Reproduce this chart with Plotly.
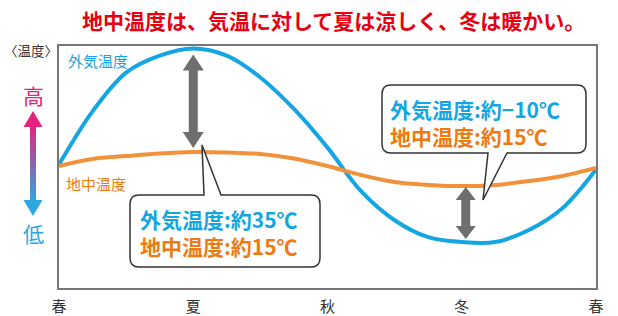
import plotly.graph_objects as go

# ---- data ----
season_pos = [0, 1, 2, 3, 4]
season_labels = ["春", "夏", "秋", "冬", "春"]
x_pos = [0, 0.25, 0.5, 0.75, 1, 1.25, 1.5, 1.75, 2, 2.25, 2.5, 2.75, 3, 3.25, 3.5, 3.75, 4]
air_temp = [51, 73, 89, 96, 99, 96, 87, 74, 58, 40, 28, 21, 19, 19, 24, 33, 49]
ground_temp = [50.4, 53.3, 54.5, 55.6, 56.2, 56.0, 55.4, 53.5, 50.4, 46.7, 43.8, 42.6, 42.1, 42.6, 44.2, 46.3, 49.6]
summer_idx = 4
winter_idx = 12

title_text = "地中温度は、気温に対して夏は涼しく、冬は暖かい。"
box1_lines = ["外気温度:約35℃", "地中温度:約15℃"]
box2_lines = ["外気温度:約−10℃", "地中温度:約15℃"]

# ---- style ----
W, H = 618, 316
L, R, T, B = 59, 596, 46, 288
BLUE = "#14a6e3"
ORANGE_LINE = "#f1913c"
ORANGE_TXT = "#ee7a12"
GRAY = "#6e6e6e"
FONT = "Noto Sans CJK JP"

XR = (0, 4)
YR = (0, 100)
dx_per_px = (XR[1] - XR[0]) / (R - L)
dy_per_px = (YR[1] - YR[0]) / (B - T)


def PX(x):
    return (x - L) / (R - L)


def PY(y):
    return (B - y) / (B - T)


fig = go.Figure()
fig.add_trace(go.Scatter(x=x_pos, y=air_temp, mode="lines", line=dict(color=BLUE, width=4, shape="spline"),
                         hoverinfo="skip", showlegend=False))
fig.add_trace(go.Scatter(x=x_pos, y=ground_temp, mode="lines", line=dict(color=ORANGE_LINE, width=4, shape="spline"),
                         hoverinfo="skip", showlegend=False))

shapes = []


def dbl_arrow(x, y_top, y_bot, shaft_hw_px, head_hw_px, head_len_px):
    sw = shaft_hw_px * dx_per_px
    hw = head_hw_px * dx_per_px
    hl = head_len_px * dy_per_px
    pts = [(x, y_top), (x + hw, y_top - hl), (x + sw, y_top - hl), (x + sw, y_bot + hl), (x + hw, y_bot + hl),
           (x, y_bot), (x - hw, y_bot + hl), (x - sw, y_bot + hl), (x - sw, y_top - hl), (x - hw, y_top - hl)]
    path = "M " + " L ".join(f"{a},{b}" for a, b in pts) + " Z"
    return dict(type="path", xref="x", yref="y", path=path, fillcolor=GRAY, line=dict(width=0), layer="above")


# summer arrow: between air (top) and ground (bottom)
xs = x_pos[summer_idx]
shapes.append(dbl_arrow(xs, air_temp[summer_idx] - 6 * dy_per_px, ground_temp[summer_idx] + 4 * dy_per_px, 4.5, 10.5, 16))
# winter arrow: between ground (top) and air (bottom)
xw = x_pos[winter_idx] + 4 * dx_per_px
shapes.append(dbl_arrow(xw, ground_temp[winter_idx] - 1 * dy_per_px, air_temp[winter_idx] + 3 * dy_per_px, 4.5, 10, 13))


def ppath(pts_cmds):
    out = []
    for cmd, coords in pts_cmds:
        s = cmd
        if coords:
            s += " " + " ".join(f"{PX(a):.5f},{PY(b):.5f}" for a, b in coords)
        out.append(s)
    return " ".join(out)


r = 9
# callout box 1 (tail up)
l1, r1, t1, b1 = 130, 320, 195, 267
p1 = ppath([("M", [(l1 + r, t1)]), ("L", [(204, t1)]), ("L", [(202, 145)]), ("L", [(221, t1)]),
            ("L", [(r1 - r, t1)]), ("Q", [(r1, t1), (r1, t1 + r)]), ("L", [(r1, b1 - r)]),
            ("Q", [(r1, b1), (r1 - r, b1)]), ("L", [(l1 + r, b1)]), ("Q", [(l1, b1), (l1, b1 - r)]),
            ("L", [(l1, t1 + r)]), ("Q", [(l1, t1), (l1 + r, t1)]), ("Z", [])])
shapes.append(dict(type="path", xref="paper", yref="paper", path=p1, fillcolor="white",
                   line=dict(color="#333333", width=1.5), layer="above"))
# callout box 2 (tail down)
l2, r2, t2, b2 = 382, 586, 85, 153
p2 = ppath([("M", [(l2 + r, t2)]), ("L", [(r2 - r, t2)]), ("Q", [(r2, t2), (r2, t2 + r)]),
            ("L", [(r2, b2 - r)]), ("Q", [(r2, b2), (r2 - r, b2)]), ("L", [(507, b2)]), ("L", [(483, 200)]),
            ("L", [(488, b2)]), ("L", [(l2 + r, b2)]), ("Q", [(l2, b2), (l2, b2 - r)]),
            ("L", [(l2, t2 + r)]), ("Q", [(l2, t2), (l2 + r, t2)]), ("Z", [])])
shapes.append(dict(type="path", xref="paper", yref="paper", path=p2, fillcolor="white",
                   line=dict(color="#333333", width=1.5), layer="above"))

# gradient high/low arrow on the left
top_c = (229, 35, 125)
bot_c = (47, 168, 225)
ax = 33
y0, y1 = 124, 202
n = 26
for i in range(n):
    ya = y0 + (y1 - y0) * i / n
    yb = y0 + (y1 - y0) * (i + 1) / n + 0.6
    t = (i + 0.5) / n
    c = tuple(int(top_c[k] + (bot_c[k] - top_c[k]) * t) for k in range(3))
    shapes.append(dict(type="line", xref="paper", yref="paper", x0=PX(ax), x1=PX(ax), y0=PY(ya), y1=PY(yb),
                       line=dict(color=f"rgb{c}", width=6)))
shapes.append(dict(type="path", xref="paper", yref="paper",
                   path=f"M {PX(ax)},{PY(111)} L {PX(ax + 9.5)},{PY(127)} L {PX(ax - 9.5)},{PY(127)} Z",
                   fillcolor=f"rgb{top_c}", line=dict(width=0)))
shapes.append(dict(type="path", xref="paper", yref="paper",
                   path=f"M {PX(ax)},{PY(216)} L {PX(ax + 9.5)},{PY(200)} L {PX(ax - 9.5)},{PY(200)} Z",
                   fillcolor=f"rgb{bot_c}", line=dict(width=0)))

annotations = []


def txt(text, x, y, size, color, xanchor="center", bold=False, align="center"):
    annotations.append(dict(text=f"<b>{text}</b>" if bold else text, xref="paper", yref="paper",
                            x=PX(x), y=PY(y), xanchor=xanchor, yanchor="middle", showarrow=False, align=align,
                            font=dict(family=FONT, size=size, color=color), borderpad=0))


def two_line(lines):
    return (f'<span style="color:{BLUE}">{lines[0]}</span><br>'
            f'<span style="color:{ORANGE_TXT}">{lines[1]}</span>')


txt(title_text, 333, 20, 21, "#e60012", bold=True)
txt("〈温度〉", 31, 50, 13.5, "#333333")
txt("高", 33, 95, 21, "#e4237d")
txt("低", 33, 233, 21, "#2fa8e1")
txt("外気温度", 67, 60, 15, BLUE, xanchor="left")
txt("地中温度", 65, 183, 15, ORANGE_TXT, xanchor="left")
txt(two_line(box1_lines), 139, 232.5, 21, BLUE, xanchor="left", bold=True, align="left")
txt(two_line(box2_lines), 389, 122.5, 21, BLUE, xanchor="left", bold=True, align="left")

fig.update_layout(
    width=W, height=H,
    margin=dict(l=L, r=W - R, t=T, b=H - B, pad=0, autoexpand=False),
    paper_bgcolor="white", plot_bgcolor="white",
    shapes=shapes, annotations=annotations, showlegend=False,
    xaxis=dict(range=list(XR), tickvals=season_pos, ticktext=season_labels, showgrid=False, zeroline=False,
               showline=True, mirror=True, linecolor="#777777", linewidth=1.5, ticks="outside", ticklen=4,
               tickcolor="rgba(0,0,0,0)", tickfont=dict(family=FONT, size=15, color="#333333"),
               fixedrange=True, automargin=False),
    yaxis=dict(range=list(YR), showticklabels=False, showgrid=False, zeroline=False, showline=True, mirror=True,
               linecolor="#777777", linewidth=1.5, ticks="", fixedrange=True, automargin=False),
)

fig.write_html("out.html", config={"displayModeBar": False},
               post_script="document.body.style.margin='0px';document.body.style.overflow='hidden';")
